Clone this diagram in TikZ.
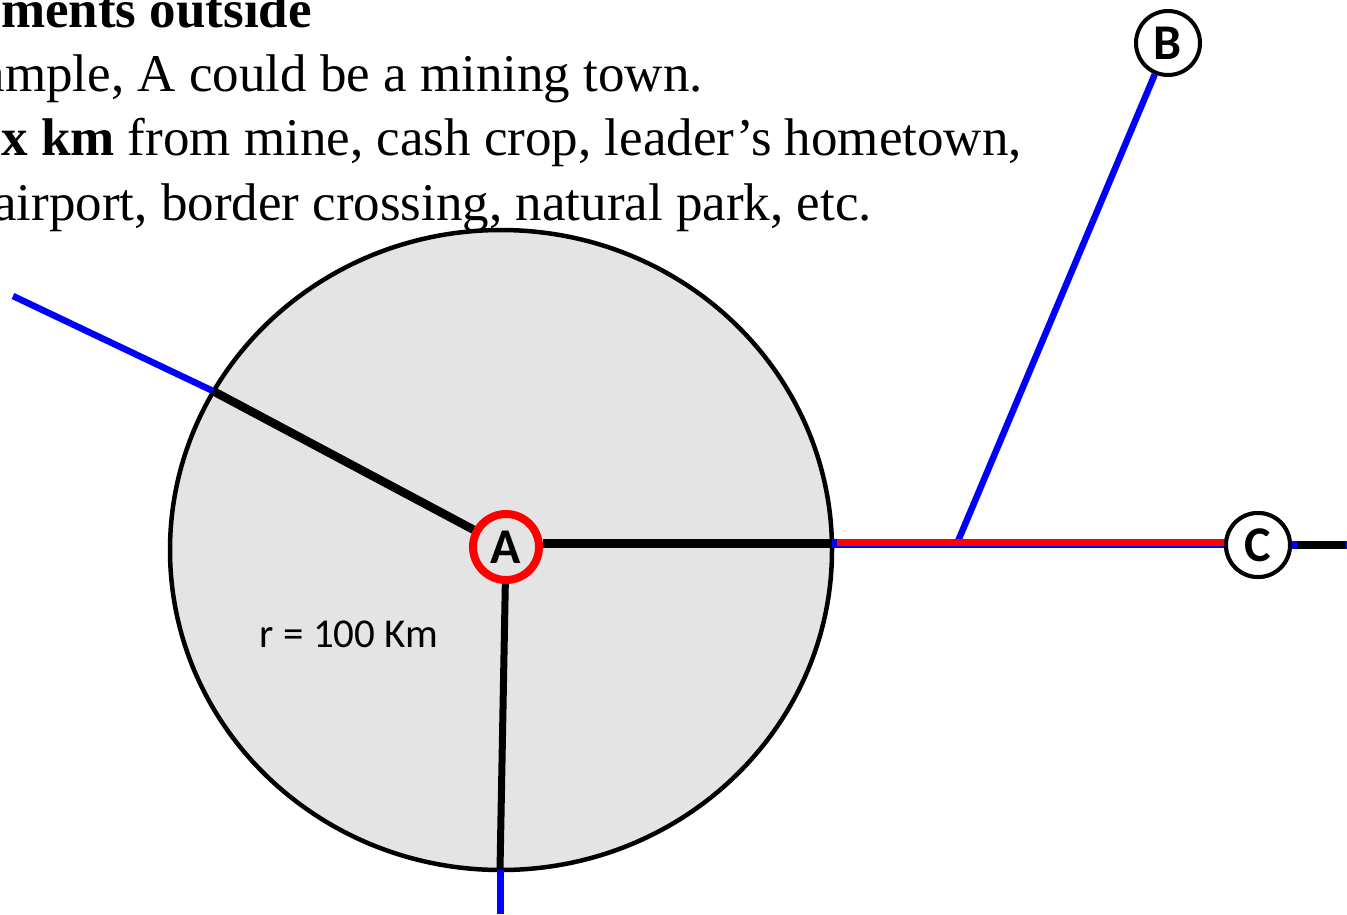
\documentclass[tikz,border=0pt]{standalone}
\usepackage{fontspec}
\setmainfont{Liberation Serif}
\newfontfamily\labelfont{Carlito}
\begin{document}
\begin{tikzpicture}[x=1pt,y=-1pt,
  bluel/.style={draw={rgb,255:red,0;green,0;blue,255},line width=6.5pt},
  redl/.style={draw={rgb,255:red,255;green,0;blue,0},line width=7pt},
  blackl/.style={draw=black,line width=8.5pt},
  town/.style={circle,draw=black,line width=4pt,fill=white,minimum size=64pt,inner sep=0pt,font=\labelfont\fontsize{50}{50}\selectfont\bfseries},
  bigtext/.style={anchor=base east,inner sep=0pt,font=\fontsize{53}{64}\selectfont}]
\useasboundingbox (0,0) rectangle (1347,914);
\clip (0,0) rectangle (1347,914);
% text
\node[bigtext] (t1) at (312,27) {\bfseries Developments outside};
\node[bigtext] (t2) at (703,91) {For example, A could be a mining town.};
\node[bigtext] (t3) at (1022,155) {\textbf{x km} from mine, cash crop, leader’s hometown,};
\node[bigtext] (t4) at (872,220) {airport, border crossing, natural park, etc.};
% region
\draw[line width=4.5pt,fill={rgb,255:red,228;green,228;blue,228}] (501,550) ellipse [x radius=331,y radius=320];
\coordinate (pl) at (213,391);
\coordinate (ql) at (13,296);
\coordinate (pb) at (500,870);
\coordinate (qb) at (500,914);
\coordinate (pr) at (832,543.5);
\coordinate (J) at (957,543.5);
\coordinate (cr) at (1347,545);
\node[town,draw={rgb,255:red,255;green,0;blue,0},line width=8pt,fill={rgb,255:red,228;green,228;blue,228},minimum size=66pt] (A) at (506,547) {A};
\node[town] (B) at (1168,43) {B};
\node[town] (C) at (1258,545) {C};
% roads
\draw[bluel] (pl) -- (ql);
\draw[blackl] (A) -- (pl);
\draw[blackl,line width=9pt] (A.east |- pr) -- (pr);
\draw[blackl,line width=7pt] (A) -- (pb);
\draw[bluel,line width=7pt] (pb) -- (qb);
\draw[bluel] (J) -- (B);
\draw[bluel,line width=9pt] (pr) -- (C.west |- pr);
\draw[redl] ([yshift=1pt]pr) ++(5,0) -- ([yshift=1pt]C.west |- pr);
\draw[bluel,line width=8pt] (C) -- (cr);
\draw[blackl] ([xshift=5pt]C.east) -- ([xshift=-2pt]cr);
\node[town] at (C) {C};
\node[font=\labelfont\fontsize{41}{41}\selectfont] (r) at (349,634) {r = 100 Km};
\end{tikzpicture}
\end{document}
